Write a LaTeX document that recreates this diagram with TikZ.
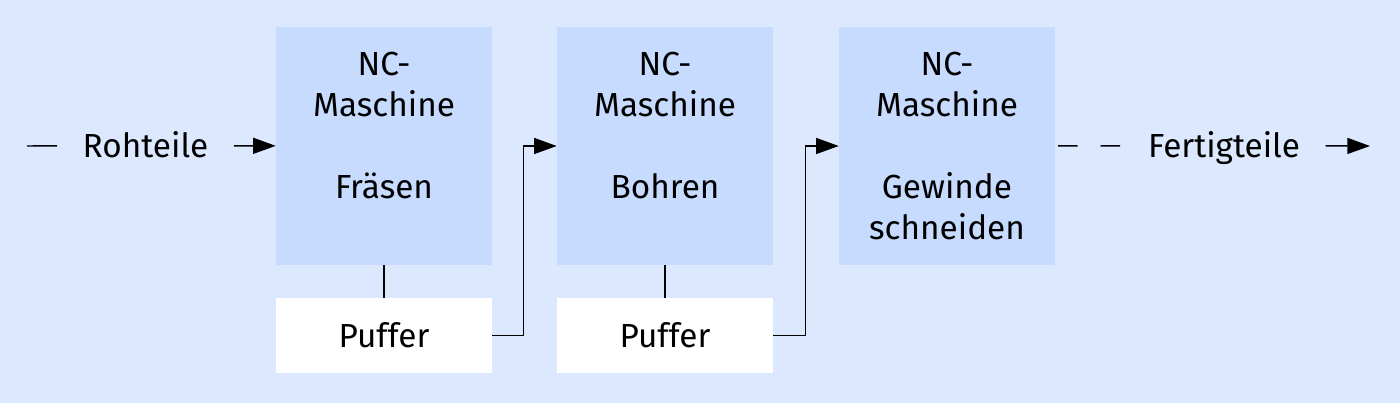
\documentclass[tikz,border=0pt]{standalone}
\usepackage{fontspec}
\setmainfont{Fira Sans}
\usetikzlibrary{arrows.meta,positioning}
\definecolor{bgblue}{RGB}{220,232,254}
\definecolor{boxblue}{RGB}{198,219,254}
\tikzset{
  every node/.style={font=\fontsize{25}{30.75}\selectfont},
  machine/.style={fill=boxblue, minimum width=162pt, minimum height=178.5pt, align=center, inner sep=0pt},
  buffer/.style={fill=white, minimum width=162pt, minimum height=56.25pt, inner sep=0pt},
  flowlbl/.style={inner xsep=19pt, inner ysep=0pt, text height=17pt, text depth=0pt},
  flow/.style={line width=1.1pt},
  flowarrow/.style={flow, -{Triangle[length=17pt,width=12pt]}}
}
\begin{document}
\begin{tikzpicture}[x=0.75pt,y=0.75pt,yscale=-1,xscale=1]
% background
\fill [bgblue] (0,0) rectangle (1400,403);
\useasboundingbox (0,0) rectangle (1400,403);

% machines
\node (m1) [machine] at (384,146) {NC-\\Maschine\\\mbox{}\\Fräsen\\\mbox{}};
\node (m2) [machine] at (665,146) {NC-\\Maschine\\\mbox{}\\Bohren\\\mbox{}};
\node (m3) [machine] at (947,146) {NC-\\Maschine\\\mbox{}\\Gewinde\\schneiden};

% buffers
\node (p1) [buffer] at (384,335.5) {Puffer};
\node (p2) [buffer] at (665,335.5) {Puffer};

% input / output
\coordinate (in) at (27,146);
\node (roh) [flowlbl, anchor=base] at (145.5,157) {Rohteile};
\node (fert) [flowlbl, anchor=base] at (1224,157) {Fertigteile};
\coordinate (out) at (1370,146);

% connectors
\draw [flow] (in) -- (roh);
\draw [flowarrow] (roh) -- (m1);
\draw [flow] (m1) -- (p1);
\draw [flow] (m2) -- (p2);
\draw [flowarrow] (p1.east) -- ++(31,0) |- (m2.west);
\draw [flowarrow] (p2.east) -- ++(32,0) |- (m3.west);
\draw [flow, dash pattern=on 14.6pt off 17.3pt, shorten <=2.2pt] (m3) -- (fert);
\draw [flowarrow] (fert) -- (out);

\end{tikzpicture}
\end{document}
